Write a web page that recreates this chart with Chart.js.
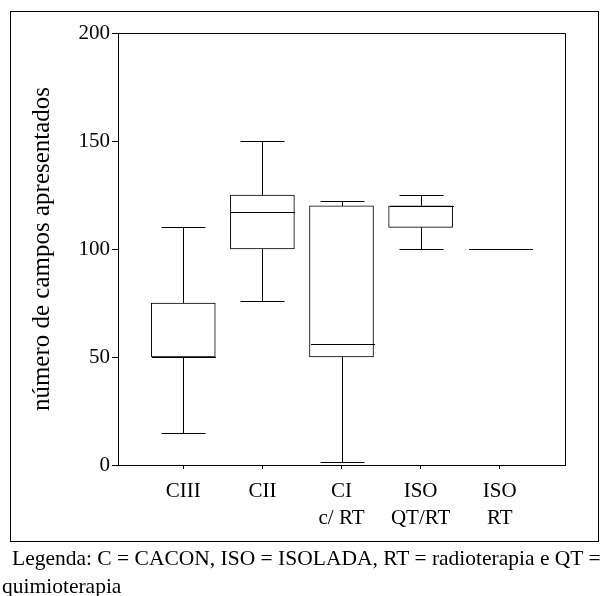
<!DOCTYPE html>
<html>
<head>
<meta charset="utf-8">
<script src="https://cdn.jsdelivr.net/npm/chart.js@4/dist/chart.umd.min.js"></script>
<style>
  html, body { margin: 0; padding: 0; background: #fff; }
  #wrap { position: relative; width: 600px; height: 596px; overflow: hidden; }
  #frame { position: absolute; left: 10px; top: 11px; width: 589px; height: 531px; box-sizing: border-box; border: 1px solid #000; }
  #chart { position: absolute; left: 0; top: 0; }
  #caption { position: absolute; left: 0; top: 544px; width: 600px; font-family: "Liberation Serif", "Times New Roman", serif; font-size: 21.5px; line-height: 28px; color: #000; white-space: nowrap; }
  #caption .l1 { padding-left: 12px; }
  #caption .l2 { padding-left: 2px; }
</style>
</head>
<body>
<div id="wrap">
  <div id="frame"></div>
  <canvas id="chart" width="600" height="596"></canvas>
  <div id="caption"><div class="l1">Legenda: C = CACON, ISO = ISOLADA, RT = radioterapia e QT =</div><div class="l2">quimioterapia</div></div>
</div>
<script>
// ---- data ----
const categories = [["CIII"], ["CII"], ["CI", "c/ RT"], ["ISO", "QT/RT"], ["ISO", "RT"]];
const whiskerMin = [15, 76, 1.5, 100, 100];
const q1Values   = [50, 100, 50, 110, 100];
const medianVals = [50, 117, 56, 120, 100];
const q3Values   = [75, 125, 120, 120, 100];
const whiskerMax = [110, 150, 122, 125, 100];
const yTicks = [0, 50, 100, 150, 200];
const yTitle = "número de campos apresentados";

const boxData = categories.map((c, i) => ({ x: i + 1, y: [q1Values[i], q3Values[i]] }));

const FONT = '"Liberation Serif", "Times New Roman", serif';

const boxPlugin = {
  id: 'boxWhiskers',
  afterDatasetsDraw(chart) {
    const ctx = chart.ctx;
    const xs = chart.scales.x, ys = chart.scales.y;
    const meta = chart.getDatasetMeta(0);
    ctx.save();
    ctx.strokeStyle = '#000';
    ctx.lineWidth = 1;
    const capHalf = 22;
    const crisp = v => Math.round(v) + 0.5;
    categories.forEach((c, i) => {
      const x = crisp(xs.getPixelForValue(i + 1));
      const el = meta.data[i];
      const half = (el && el.width ? el.width : 64) / 2;
      const yMin = crisp(ys.getPixelForValue(whiskerMin[i]));
      const yMax = crisp(ys.getPixelForValue(whiskerMax[i]));
      const yQ1 = ys.getPixelForValue(q1Values[i]);
      const yQ3 = ys.getPixelForValue(q3Values[i]);
      const yMed = crisp(ys.getPixelForValue(medianVals[i]));
      ctx.beginPath();
      if (whiskerMax[i] > q3Values[i]) {
        ctx.moveTo(x, yQ3); ctx.lineTo(x, yMax);
      }
      ctx.moveTo(x - capHalf, yMax); ctx.lineTo(x + capHalf, yMax);
      if (whiskerMin[i] < q1Values[i]) {
        ctx.moveTo(x, yQ1); ctx.lineTo(x, yMin);
      }
      ctx.moveTo(x - capHalf, yMin); ctx.lineTo(x + capHalf, yMin);
      ctx.moveTo(Math.round(x - half), yMed); ctx.lineTo(Math.round(x + half), yMed);
      ctx.stroke();
    });
    const a = chart.chartArea;
    ctx.beginPath();
    ctx.moveTo(crisp(a.left), crisp(a.top));
    ctx.lineTo(crisp(a.right), crisp(a.top));
    ctx.lineTo(crisp(a.right), crisp(a.bottom));
    ctx.stroke();
    ctx.restore();
  }
};

new Chart(document.getElementById('chart'), {
  type: 'bar',
  data: {
    datasets: [{
      data: boxData,
      backgroundColor: '#ffffff',
      borderColor: '#000000',
      borderWidth: 1,
      borderSkipped: false,
      barThickness: 64
    }]
  },
  options: {
    responsive: false,
    animation: false,
    devicePixelRatio: 1,
    layout: { padding: { left: 0, top: 33, right: 35, bottom: 0 } },
    plugins: { legend: { display: false }, tooltip: { enabled: false }, title: { display: false } },
    scales: {
      x: {
        type: 'linear',
        offset: false,
        min: 0.175,
        max: 5.825,
        afterBuildTicks(scale) { scale.ticks = categories.map((c, i) => ({ value: i + 1 })); },
        afterFit(scale) { scale.height = 131; },
        grid: { offset: false, drawOnChartArea: false, drawTicks: true, tickLength: 4, color: '#000' },
        border: { display: true, color: '#000', width: 1 },
        ticks: {
          color: '#000',
          font: { family: FONT, size: 21, lineHeight: 1.3 },
          padding: 9,
          maxRotation: 0,
          autoSkip: false,
          callback(v) { const i = Math.round(v) - 1; return categories[i] || ''; }
        }
      },
      y: {
        min: 0,
        max: 200,
        afterBuildTicks(scale) { scale.ticks = yTicks.map(v => ({ value: v })); },
        afterFit(scale) { scale.width = 118; },
        grid: { drawOnChartArea: false, drawTicks: true, tickLength: 6, color: '#000' },
        border: { display: true, color: '#000', width: 1 },
        ticks: { color: '#000', font: { family: FONT, size: 21 }, padding: 2 },
        title: {
          display: true,
          text: yTitle,
          color: '#000',
          font: { family: FONT, size: 25 },
          padding: { top: 27, bottom: 0 }
        }
      }
    }
  },
  plugins: [boxPlugin]
});
</script>
</body>
</html>
